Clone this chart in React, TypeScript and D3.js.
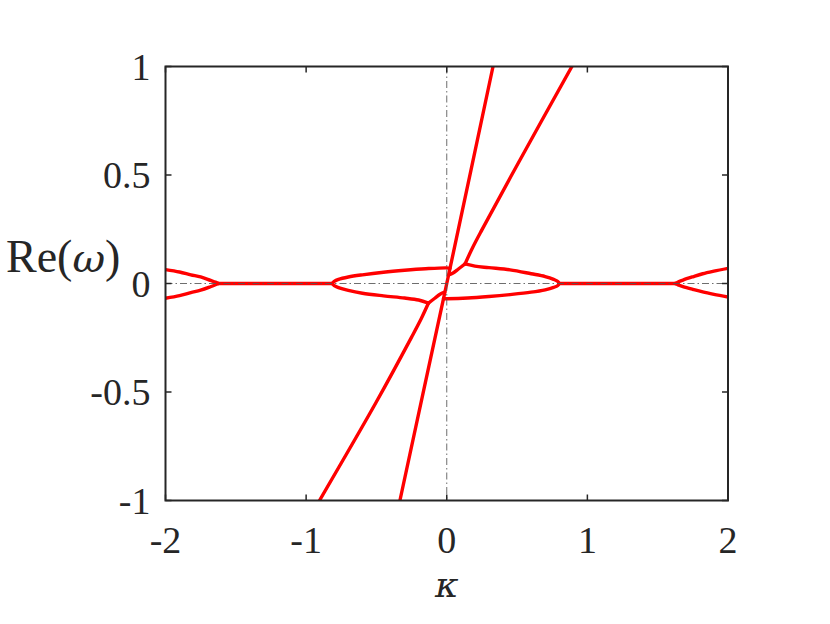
import React from "react";
import * as d3 from "d3";

// axis ticks
const xTicks = [-2, -1, 0, 1, 2];
const xTickLabels = ["-2", "-1", "0", "1", "2"];
const yTicks = [-1, -0.5, 0, 0.5, 1];
const yTickLabels = ["-1", "-0.5", "0", "0.5", "1"];

// branches of Re(omega) vs kappa
const steepK = [-0.333, -0.02, 0, 0.02, 0.329];
const steepW = [-1, -0.06, 0, 0.06, 1];

const upperLineK = [0.13, 0.18, 0.25, 0.5, 0.89];
const upperLineW = [0.09, 0.16, 0.247, 0.545, 1];
const lowerLineK = [-0.13, -0.18, -0.25, -0.5, -0.905];
const lowerLineW = [-0.09, -0.16, -0.247, -0.545, -1];

const upperLinkK = [0.13, 0.085, 0.045, 0.015];
const upperLinkW = [0.09, 0.068, 0.048, 0.04];
const lowerLinkK = [-0.13, -0.085, -0.045, -0.015];
const lowerLinkW = [-0.09, -0.068, -0.048, -0.04];

const upperLeftK = [-0.815, -0.8, -0.77, -0.7, -0.6, -0.45, -0.3, -0.15, 0, 0.023];
const upperLeftW = [0, 0.01, 0.019, 0.03, 0.04, 0.052, 0.061, 0.068, 0.072, 0.07];
const lowerLeftK = [-0.815, -0.8, -0.77, -0.7, -0.6, -0.45, -0.3, -0.2, -0.13];
const lowerLeftW = [0, -0.01, -0.019, -0.032, -0.045, -0.057, -0.067, -0.076, -0.09];

const upperRightK = [0.13, 0.2, 0.3, 0.45, 0.6, 0.7, 0.76, 0.79, 0.8];
const upperRightW = [0.09, 0.08, 0.073, 0.063, 0.045, 0.032, 0.019, 0.009, 0];
const lowerRightK = [-0.023, 0, 0.15, 0.3, 0.45, 0.6, 0.7, 0.76, 0.79, 0.8];
const lowerRightW = [-0.07, -0.07, -0.067, -0.06, -0.051, -0.04, -0.029, -0.018, -0.009, 0];

const flatLeftK = [-1.625, -0.815];
const flatRightK = [0.8, 1.625];
const flatW = [0, 0];

const outerLeftK = [-2, -1.9, -1.82, -1.75, -1.68, -1.645, -1.625];
const outerLeftUpW = [0.064, 0.053, 0.04, 0.03, 0.014, 0.006, 0];
const outerLeftLowW = [-0.068, -0.056, -0.042, -0.031, -0.015, -0.006, 0];
const outerRightK = [1.625, 1.645, 1.68, 1.75, 1.82, 1.9, 2];
const outerRightUpW = [0, 0.007, 0.016, 0.031, 0.045, 0.057, 0.07];
const outerRightLowW = [0, -0.006, -0.014, -0.027, -0.039, -0.05, -0.062];

const branches: [number[], number[]][] = [
  [steepK, steepW],
  [upperLineK, upperLineW],
  [lowerLineK, lowerLineW],
  [upperLinkK, upperLinkW],
  [lowerLinkK, lowerLinkW],
  [upperLeftK, upperLeftW],
  [lowerLeftK, lowerLeftW],
  [upperRightK, upperRightW],
  [lowerRightK, lowerRightW],
  [flatLeftK, flatW],
  [flatRightK, flatW],
  [outerLeftK, outerLeftUpW],
  [outerLeftK, outerLeftLowW],
  [outerRightK, outerRightUpW],
  [outerRightK, outerRightLowW],
];

const W = 830;
const H = 624;
const left = 165.5;
const right = 728;
const top = 66.5;
const bottom = 500.5;

const serif = "'Liberation Serif', 'DejaVu Serif', serif";

export default function App() {
  const x = d3.scaleLinear().domain([-2, 2]).range([left, right]);
  const y = d3.scaleLinear().domain([-1, 1]).range([bottom, top]);

  const line = d3
    .line<[number, number]>()
    .x((d) => x(d[0]))
    .y((d) => y(d[1]))
    .curve(d3.curveCatmullRom.alpha(0.5));

  const tick = 6;
  const axisColor = "#262626";

  return (
    <svg
      width={W}
      height={H}
      style={{ position: "absolute", left: 0, top: 0, background: "#fff" }}
    >
      <defs>
        <clipPath id="plot">
          <rect x={left} y={top} width={right - left} height={bottom - top} />
        </clipPath>
      </defs>

      <g clipPath="url(#plot)">
        {branches.map(([ks, ws], i) => (
          <path
            key={i}
            d={line(ks.map((k, j) => [k, ws[j]] as [number, number])) || ""}
            fill="none"
            stroke="#ff0000"
            strokeWidth={3.4}
            strokeLinejoin="round"
            strokeLinecap="round"
          />
        ))}
        <line
          x1={left}
          x2={right}
          y1={y(0)}
          y2={y(0)}
          stroke="#555"
          strokeWidth={1}
          strokeDasharray="7,3,1.5,3"
          opacity={0.85}
        />
        <line
          x1={x(0)}
          x2={x(0)}
          y1={top}
          y2={bottom}
          stroke="#555"
          strokeWidth={1}
          strokeDasharray="7,3,1.5,3"
          opacity={0.85}
        />
      </g>

      {/* ticks */}
      {xTicks.map((t) => (
        <g key={"xt" + t}>
          <line x1={x(t)} x2={x(t)} y1={bottom} y2={bottom - tick} stroke={axisColor} strokeWidth={1.5} />
          <line x1={x(t)} x2={x(t)} y1={top} y2={top + tick} stroke={axisColor} strokeWidth={1.5} />
        </g>
      ))}
      {yTicks.map((t) => (
        <g key={"yt" + t}>
          <line x1={left} x2={left + tick} y1={y(t)} y2={y(t)} stroke={axisColor} strokeWidth={1.5} />
          <line x1={right} x2={right - tick} y1={y(t)} y2={y(t)} stroke={axisColor} strokeWidth={1.5} />
        </g>
      ))}

      <rect
        x={left}
        y={top}
        width={right - left}
        height={bottom - top}
        fill="none"
        stroke={axisColor}
        strokeWidth={2}
      />

      {/* tick labels */}
      {xTicks.map((t, i) => (
        <text
          key={"xl" + t}
          x={x(t)}
          y={bottom + 52}
          textAnchor="middle"
          fontFamily={serif}
          fontSize={38}
          fill={axisColor}
        >
          {xTickLabels[i]}
        </text>
      ))}
      {yTicks.map((t, i) => (
        <text
          key={"yl" + t}
          x={left - 15}
          y={y(t) + 13}
          textAnchor="end"
          fontFamily={serif}
          fontSize={38}
          fill={axisColor}
        >
          {yTickLabels[i]}
        </text>
      ))}

      {/* axis labels */}
      <text
        x={x(0)}
        y={597}
        textAnchor="middle"
        fontFamily="'DejaVu Serif', serif"
        fontSize={36}
        fontStyle="italic"
        fill={axisColor}
      >
        κ
      </text>
      <text x={6} y={272} fontFamily={serif} fontSize={46} fill={axisColor}>
        Re(<tspan fontFamily="'DejaVu Serif', serif" fontStyle="italic" fontSize={40}>ω</tspan>)
      </text>
    </svg>
  );
}
